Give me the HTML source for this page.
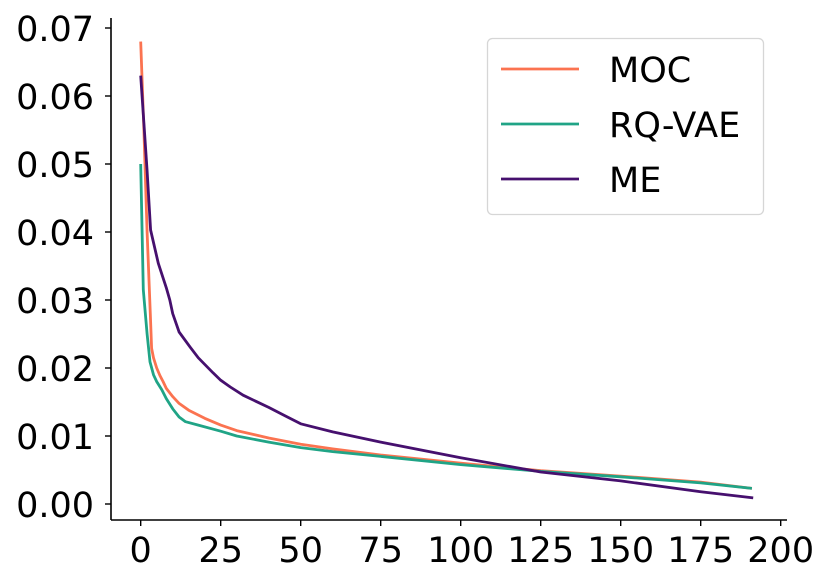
<!DOCTYPE html>
<html><head><meta charset="utf-8"><style>
html,body{margin:0;padding:0;background:#fff;}
svg{display:block;font-family:"DejaVu Sans","Liberation Sans",sans-serif;}
</style></head><body>
<svg id="chart" width="831" height="584" viewBox="0 0 831 584">
<g id="plot"></g>
<g id="axes"></g>
<g id="legend"></g>
</svg>
<script>
const mocX=[0,1,2,3,3.4,4,5,6,7,8,10,12,15,20,25,30,40,50,60,75,100,125,150,175,191];
const mocY=[0.068,0.055,0.040,0.028,0.0229,0.0215,0.0200,0.0189,0.0180,0.0170,0.0158,0.0148,0.0138,0.0126,0.0116,0.0108,0.0097,0.0088,0.0081,0.0072,0.0060,0.0049,0.0041,0.0032,0.0023];
const rqX=[0,0.8,2,2.9,4,5,6.6,8,10,12,14,18,25,30,40,50,60,75,100,125,150,175,191];
const rqY=[0.050,0.0315,0.025,0.0209,0.0190,0.0180,0.0168,0.0155,0.0140,0.0128,0.0121,0.0116,0.0107,0.0100,0.0091,0.0083,0.0077,0.0070,0.0058,0.0048,0.0040,0.0031,0.0023];
const meX=[0,1,2,3.1,5.5,8,9.1,10,12,15.4,18,22.6,25,28,32,36,40,45,50,60,75,100,125,150,175,191.4];
const meY=[0.063,0.056,0.049,0.0403,0.0354,0.0318,0.030,0.028,0.0253,0.0231,0.0215,0.0193,0.0182,0.0172,0.0160,0.0151,0.0142,0.0130,0.0118,0.0106,0.0091,0.0068,0.0047,0.0034,0.0018,0.0009];
const xTicks=[0,25,50,75,100,125,150,175,200];
const yTicks=[0,0.01,0.02,0.03,0.04,0.05,0.06,0.07];
const yTickLabels=["0.00","0.01","0.02","0.03","0.04","0.05","0.06","0.07"];
const seriesNames=["MOC","RQ-VAE","ME"];
const seriesColors=["#fb7350","#20a486","#46106e"];

const NS="http://www.w3.org/2000/svg";
const X0=140.7,XS=3.2,Y0=504,YS=6800;
function sx(v){return X0+v*XS;}
function sy(v){return Y0-v*YS;}
function mk(tag,attrs,parent){const e=document.createElementNS(NS,tag);for(const k in attrs)e.setAttribute(k,attrs[k]);parent.appendChild(e);return e;}
const plot=document.getElementById('plot'),axes=document.getElementById('axes'),leg=document.getElementById('legend');

const series=[[mocX,mocY],[rqX,rqY],[meX,meY]];
series.forEach((s,i)=>{
  const d=s[0].map((x,j)=>(j?'L':'M')+sx(x).toFixed(1)+','+sy(s[1][j]).toFixed(1)).join(' ');
  const p=mk('path',{d:d,fill:'none',stroke:seriesColors[i],'stroke-width':2.8,'stroke-linejoin':'round'},plot);
  
  
});

const ys=mk('line',{x1:111,y1:18,x2:111,y2:520,stroke:'#000','stroke-width':1.6},axes);


const xs=mk('line',{x1:111,y1:520,x2:787,y2:520,stroke:'#000','stroke-width':1.6},axes);



yTicks.forEach((v,i)=>{
  mk('line',{x1:105,y1:sy(v),x2:111,y2:sy(v),stroke:'#000','stroke-width':1.4},axes);
  const t=mk('text',{x:94,y:sy(v)+13,'text-anchor':'end','font-size':35,fill:'#000'},axes);
  t.textContent=yTickLabels[i];
  
  
});
xTicks.forEach(v=>{
  mk('line',{x1:sx(v),y1:520,x2:sx(v),y2:526,stroke:'#000','stroke-width':1.4},axes);
  const t=mk('text',{x:sx(v),y:562,'text-anchor':'middle','font-size':35,fill:'#000'},axes);
  t.textContent=String(v);
  
  
});

const box=mk('rect',{x:487.5,y:38.5,width:276,height:176,rx:5,fill:'#fff',stroke:'#d6d6d6','stroke-width':1.3},leg);


seriesNames.forEach((n,i)=>{
  const yy=69+i*55;
  const l=mk('line',{x1:501,y1:yy,x2:579,y2:yy,stroke:seriesColors[i],'stroke-width':2.8},leg);
  
  
  const t=mk('text',{x:609,y:yy+13,'font-size':35,fill:'#000'},leg);
  t.textContent=n;
  
  
});
</script>
</body></html>
